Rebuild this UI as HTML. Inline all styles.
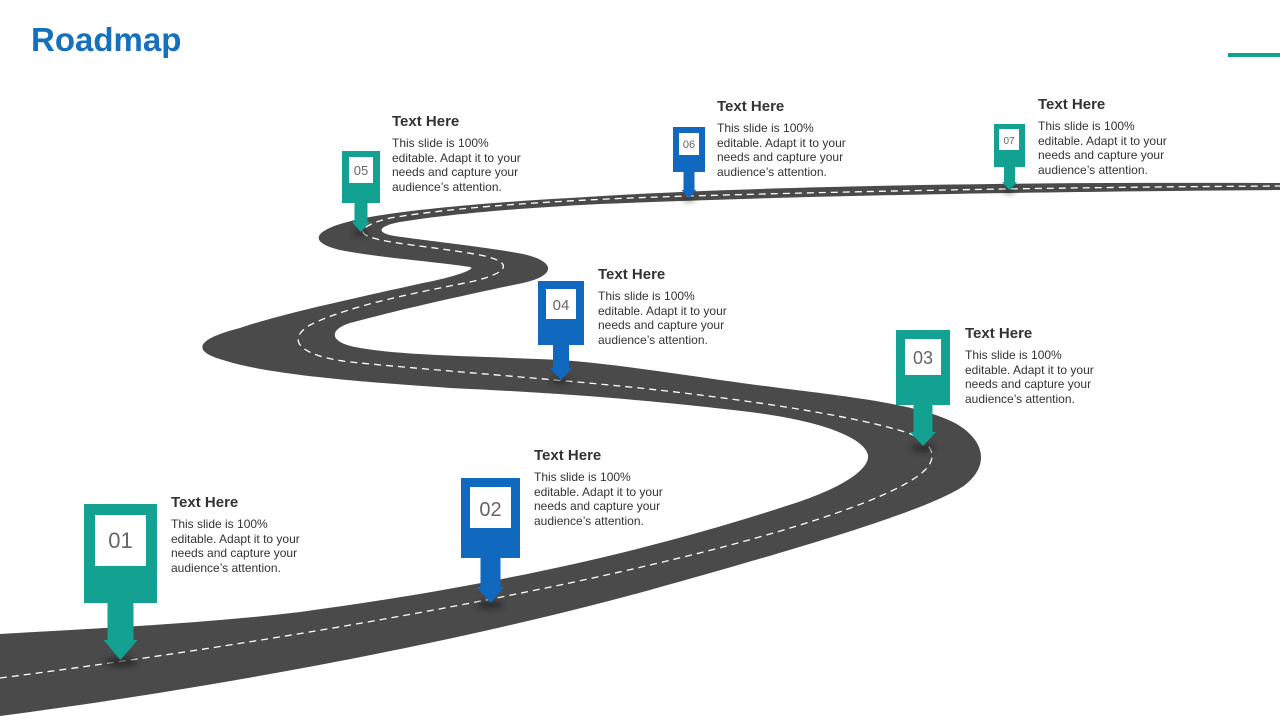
<!DOCTYPE html>
<html><head><meta charset="utf-8"><style>
body{margin:0;width:1280px;height:720px;overflow:hidden;background:#fff;font-family:"Liberation Sans",Arial,sans-serif;position:relative}
.t{position:absolute;color:#3a3a3a}
.t b{display:block;font-size:15px;font-weight:bold;color:#333;margin-bottom:6px}
.t span{display:block;font-size:12px;line-height:14.5px;color:#333}
</style></head><body>
<div style="position:absolute;left:31px;top:21px;font-size:33px;font-weight:bold;color:#1570bd">Roadmap</div>
<div style="position:absolute;left:1228px;top:53px;width:52px;height:4px;background:#13a192"></div>
<svg width="1280" height="720" style="position:absolute;left:0;top:0">
<defs><filter id="bl"><feGaussianBlur stdDeviation="3"/></filter></defs>
<path fill="#4a4a4a" d="M0,716 C 200,690 450,645 650,590 C 800,548 930,510 965,485 C 990,465 985,440 955,423 C 920,405 860,398 780,388 C 700,378 620,364 560,360 C 480,356 400,356 355,347 C 330,342 328,330 350,323 C 390,312 460,296 523,283 C 555,276 558,262 523,254 C 480,246 420,240 395,236 C 375,233 378,226 400,222 C 450,214 520,208 600,204 C 800,196 1000,192 1280,190 L1280,183 C 1000,182 750,186 570,198 C 480,203 410,210 370,217 C 320,226 300,240 340,250 C 380,258 440,262 470,267 C 478,269 450,278 423,283 C 360,297 280,314 240,328 C 200,338 188,350 223,360 C 260,372 330,380 450,388 C 560,393 650,400 750,412 C 830,422 865,440 868,455 C 870,470 840,490 780,508 C 650,550 500,585 300,612 C 200,624 100,628 0,634 Z"/>
<path fill="none" stroke="#fff" stroke-width="1.3" stroke-dasharray="7,5" d="M0,678 C 200,652 450,612 650,565 C 800,530 900,495 925,470 C 940,455 930,440 905,432 C 860,418 780,405 700,395 C 600,382 450,372 350,362 C 300,356 285,340 310,325 C 350,305 420,292 470,282 C 510,273 515,262 480,255 C 430,246 390,244 370,237 C 355,232 365,224 390,218 C 450,208 550,200 690,196 C 900,190 1100,187 1280,186"/>
<g filter="url(#bl)" fill="#222" opacity=".7">
<ellipse cx="121" cy="662" rx="16" ry="5"/><ellipse cx="490" cy="605" rx="13" ry="4"/><ellipse cx="923" cy="448" rx="12" ry="4"/><ellipse cx="561" cy="381" rx="10" ry="3"/><ellipse cx="361" cy="233" rx="8" ry="3"/><ellipse cx="689" cy="199" rx="6" ry="2"/><ellipse cx="1009" cy="191" rx="6" ry="2"/>
</g>
<g fill="#13a192"><rect x="84" y="504" width="73" height="99"/><polygon points="107.5,603 133.5,603 133.5,640 137.5,640 120.5,660 103.5,640 107.5,640"/></g>
<rect x="95" y="515" width="51" height="51" fill="#fff"/>
<g fill="#1068bf"><rect x="461" y="478" width="59" height="80"/><polygon points="480.5,558 500.5,558 500.5,587 504.5,587 490.5,603 476.5,587 480.5,587"/></g>
<rect x="470" y="487" width="41" height="41" fill="#fff"/>
<g fill="#13a192"><rect x="896" y="330" width="54" height="75"/><polygon points="913.5,405 932.5,405 932.5,432 936,432 923,446 910,432 913.5,432"/></g>
<rect x="905" y="339" width="36" height="36" fill="#fff"/>
<g fill="#1068bf"><rect x="538" y="281" width="46" height="64"/><polygon points="553,345 569,345 569,368 572,368 561,380 550,368 553,368"/></g>
<rect x="546" y="289" width="30" height="30" fill="#fff"/>
<g fill="#13a192"><rect x="342" y="151" width="38" height="52"/><polygon points="354.5,203 367.5,203 367.5,222 370,222 361,232 352,222 354.5,222"/></g>
<rect x="349" y="157" width="24" height="26" fill="#fff"/>
<g fill="#1068bf"><rect x="673" y="127" width="32" height="45"/><polygon points="683.5,172 694.5,172 694.5,190 696.5,190 689,198 681.5,190 683.5,190"/></g>
<rect x="679" y="133" width="20" height="22" fill="#fff"/>
<g fill="#13a192"><rect x="994" y="124" width="31" height="43"/><polygon points="1004,167 1015,167 1015,182 1017,182 1009.5,190 1002,182 1004,182"/></g>
<rect x="999" y="129" width="20" height="21" fill="#fff"/>
<g font-family="Liberation Sans, Arial, sans-serif" fill="#666" text-anchor="middle">
<text x="120.5" y="548" font-size="22">01</text>
<text x="490.5" y="516" font-size="20">02</text>
<text x="923" y="364" font-size="18">03</text>
<text x="561" y="310" font-size="15">04</text>
<text x="361" y="175" font-size="13">05</text>
<text x="689" y="148" font-size="11">06</text>
<text x="1009" y="144" font-size="10">07</text>
</g>
</svg>
<div class="t" style="left:171px;top:494px"><b>Text Here</b><span>This slide is 100%<br>editable. Adapt it to your<br>needs and capture your<br>audience’s attention.</span></div>
<div class="t" style="left:534px;top:447px"><b>Text Here</b><span>This slide is 100%<br>editable. Adapt it to your<br>needs and capture your<br>audience’s attention.</span></div>
<div class="t" style="left:965px;top:325px"><b>Text Here</b><span>This slide is 100%<br>editable. Adapt it to your<br>needs and capture your<br>audience’s attention.</span></div>
<div class="t" style="left:598px;top:266px"><b>Text Here</b><span>This slide is 100%<br>editable. Adapt it to your<br>needs and capture your<br>audience’s attention.</span></div>
<div class="t" style="left:392px;top:113px"><b>Text Here</b><span>This slide is 100%<br>editable. Adapt it to your<br>needs and capture your<br>audience’s attention.</span></div>
<div class="t" style="left:717px;top:98px"><b>Text Here</b><span>This slide is 100%<br>editable. Adapt it to your<br>needs and capture your<br>audience’s attention.</span></div>
<div class="t" style="left:1038px;top:96px"><b>Text Here</b><span>This slide is 100%<br>editable. Adapt it to your<br>needs and capture your<br>audience’s attention.</span></div>
</body></html>
